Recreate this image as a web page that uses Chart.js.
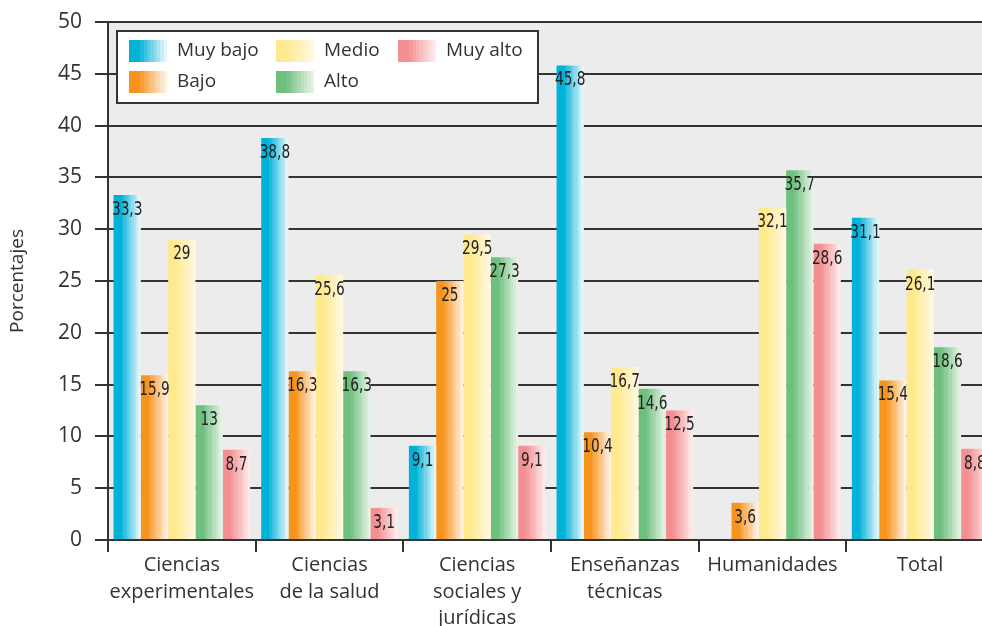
<!DOCTYPE html>
<html>
<head>
<meta charset="utf-8">
<script src="https://cdn.jsdelivr.net/npm/chart.js@4"></script>
<style>
  html, body { margin: 0; padding: 0; background: #fff; overflow: hidden; }
  #wrap { width: 994px; height: 626px; }
</style>
</head>
<body>
<div id="wrap"><canvas id="chart"></canvas></div>
<script>
// Datos del gráfico
const categorias = [
    ["Ciencias", "experimentales"],
    ["Ciencias", "de la salud"],
    ["Ciencias", "sociales y", "jurídicas"],
    ["Enseñanzas", "técnicas"],
    "Humanidades",
    "Total"
]
const nombres = ["Muy bajo", "Bajo", "Medio", "Alto", "Muy alto"]
const muyBajo = [33.3, 38.8, 9.1, 45.8, null, 31.1]
const bajo = [15.9, 16.3, 25, 10.4, 3.6, 15.4]
const medio = [29, 25.6, 29.5, 16.7, 32.1, 26.1]
const alto = [13, 16.3, 27.3, 14.6, 35.7, 18.6]
const muyAlto = [8.7, 3.1, 9.1, 12.5, 28.6, 8.8]
const ticksY = [0, 5, 10, 15, 20, 25, 30, 35, 40, 45, 50]

// colores: [oscuro, claro]
const colores = [
    ["#00b1d8", "#e3f5fb"],
    ["#f7941e", "#fff1e2"],
    ["#ffe98e", "#fff8df"],
    ["#6fbf7e", "#e4f2e4"],
    ["#f38f92", "#feeaea"]
]

const fuente = "'Open Sans', 'Noto Sans', sans-serif"
const texto = "#333333"

function mezcla(c1, c2, t) {
    const a = parseInt(c1.slice(1), 16), b = parseInt(c2.slice(1), 16)
    const r = Math.round(((a >> 16) & 255) * (1 - t) + ((b >> 16) & 255) * t)
    const g = Math.round(((a >> 8) & 255) * (1 - t) + ((b >> 8) & 255) * t)
    const bl = Math.round((a & 255) * (1 - t) + (b & 255) * t)
    return `rgb(${r},${g},${bl})`
}

// degradado a franjas, como en el original
function degradado(ctx, x0, x1, par) {
    const grad = ctx.createLinearGradient(x0, 0, x1, 0)
    const pasos = 8
    const inicio = 0.3
    grad.addColorStop(0, par[0])
    grad.addColorStop(inicio, par[0])
    for (let i = 0; i < pasos; i++) {
        const p0 = inicio + (1 - inicio) * i / pasos
        const p1 = inicio + (1 - inicio) * (i + 1) / pasos
        const col = mezcla(par[0], par[1], (i + 1) / pasos)
        grad.addColorStop(p0, col)
        grad.addColorStop(p1, col)
    }
    return grad
}

const fondoPlugin = {
    id: 'fondo',
    beforeDraw(chart) {
        const { ctx, chartArea } = chart
        ctx.save()
        ctx.fillStyle = "#ececec"
        ctx.fillRect(chartArea.left, chartArea.top, chartArea.right - chartArea.left, chartArea.bottom - chartArea.top)
        ctx.restore()
    }
}

const barrasPlugin = {
    id: 'barras',
    beforeDatasetsDraw(chart) {
        chart.data.datasets.forEach((ds, i) => {
            const meta = chart.getDatasetMeta(i)
            meta.data.forEach((el) => {
                const x0 = el.x - el.width / 2
                const x1 = el.x + el.width / 2
                el.options = Object.assign({}, el.options, {
                    backgroundColor: degradado(chart.ctx, x0, x1, colores[i])
                })
            })
        })
    },
    afterDatasetsDraw(chart) {
        const ctx = chart.ctx
        ctx.save()
        ctx.fillStyle = "#222222"
        ctx.textAlign = "center"
        ctx.textBaseline = "middle"
        ctx.font = "19px 'Liberation Sans Narrow', 'DejaVu Sans Condensed', sans-serif"
        chart.data.datasets.forEach((ds, i) => {
            const meta = chart.getDatasetMeta(i)
            meta.data.forEach((el, j) => {
                const v = ds.data[j]
                if (v === null || v === undefined) return
                const txt = String(v).replace(".", ",")
                ctx.save()
                ctx.translate(el.x, el.y + 15)
                ctx.scale(0.8, 1)
                ctx.fillText(txt, 0, 0)
                ctx.restore()
            })
        })
        ctx.restore()
    }
}

const leyendaPlugin = {
    id: 'leyenda',
    afterDraw(chart) {
        const ctx = chart.ctx
        const caja = { x: 117, y: 31, w: 421, h: 72 }
        ctx.save()
        ctx.fillStyle = "#ffffff"
        ctx.fillRect(caja.x, caja.y, caja.w, caja.h)
        ctx.strokeStyle = "#333333"
        ctx.lineWidth = 2
        ctx.strokeRect(caja.x, caja.y, caja.w, caja.h)
        const colX = [129, 276, 398]
        const filaY = [40, 71]
        ctx.font = "19px " + fuente
        ctx.textBaseline = "middle"
        ctx.textAlign = "left"
        nombres.forEach((nom, i) => {
            const c = Math.floor(i / 2), f = i % 2
            const x = colX[c], y = filaY[f]
            ctx.fillStyle = degradado(ctx, x, x + 38, colores[i])
            ctx.fillRect(x, y, 38, 22)
            ctx.fillStyle = texto
            ctx.fillText(nom, x + 48, y + 11)
        })
        ctx.restore()
    }
}

const datos = [muyBajo, bajo, medio, alto, muyAlto]

new Chart(document.getElementById('chart'), {
    type: 'bar',
    data: {
        labels: categorias,
        datasets: nombres.map((nom, i) => ({
            label: nom,
            data: datos[i],
            backgroundColor: () => colores[i][0],
            borderWidth: 0,
            categoryPercentage: 0.925,
            barPercentage: 1.0
        }))
    },
    options: {
        responsive: true,
        maintainAspectRatio: false,
        animation: false,
        events: [],
        layout: { padding: { top: 22, right: 0, left: 0, bottom: 0 } },
        plugins: {
            legend: { display: false },
            tooltip: { enabled: false }
        },
        scales: {
            x: {
                grid: {
                    drawOnChartArea: false,
                    drawTicks: true,
                    tickLength: 12,
                    color: "#333333",
                    lineWidth: 2,
                    offset: true
                },
                border: { color: "#333333", width: 2 },
                ticks: {
                    color: texto,
                    font: { family: fuente, size: 20, lineHeight: 1.33 },
                    padding: 0,
                    maxRotation: 0,
                    autoSkip: false
                },
                afterFit(scale) { scale.height = 86 }
            },
            y: {
                min: 0,
                max: 50,
                afterBuildTicks(scale) { scale.ticks = ticksY.map(v => ({ value: v })) },
                grid: {
                    color: "#333333",
                    lineWidth: 2,
                    drawTicks: true,
                    tickLength: 13
                },
                border: { color: "#333333", width: 2 },
                ticks: {
                    color: texto,
                    font: { family: fuente, size: 21 },
                    padding: 13
                },
                title: {
                    display: true,
                    text: "Porcentajes",
                    color: texto,
                    font: { family: fuente, size: 19 },
                    padding: { top: 6, bottom: 0 }
                },
                afterFit(scale) {
                    scale.width = 108
                    scale.paddingTop = 0
                    scale.paddingBottom = 0
                }
            }
        }
    },
    plugins: [fondoPlugin, barrasPlugin, leyendaPlugin]
})
</script>
</body>
</html>
